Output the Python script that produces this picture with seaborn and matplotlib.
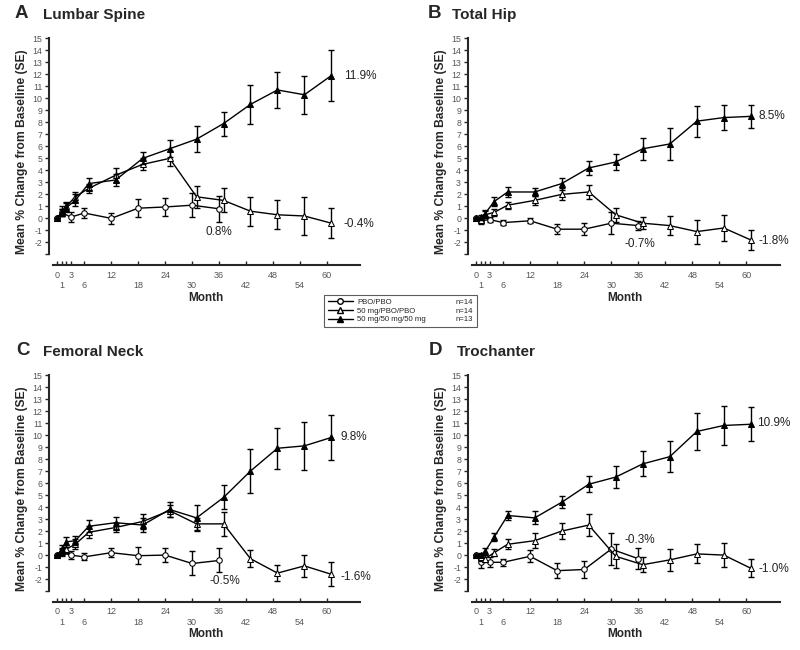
import numpy as np
import pandas as pd
import matplotlib
matplotlib.use("Agg")
import matplotlib.pyplot as plt
import seaborn as sns
from matplotlib.lines import Line2D

# visit months (treatment arms plotted one month to the right, as in the source)
months_pbo = [0, 1, 3, 6, 12, 18, 24, 30, 36]
months_trt = [0, 1, 2, 4, 7, 13, 19, 25, 31, 37, 43, 49, 55, 61]

groups = ["PBO/PBO", "50 mg/PBO/PBO", "50 mg/50 mg/50 mg"]
group_n = ["n=14", "n=14", "n=13"]

# A  Lumbar Spine
ls_pbo = [0, 0.5, 0.1, 0.45, 0.0, 0.85, 0.95, 1.1, 0.8]
ls_pbo_se = [0, 0.3, 0.4, 0.4, 0.45, 0.75, 0.75, 1.0, 1.1]
ls_sw = [0, 0.6, 1.0, 1.8, 2.5, 3.6, 4.5, 5.0, 1.8, 1.5, 0.6, 0.3, 0.2, -0.4]
ls_sw_se = [0, 0.4, 0.4, 0.4, 0.4, 0.6, 0.5, 0.6, 0.9, 1.0, 1.2, 1.2, 1.6, 1.25]
ls_alen = [0, 0.5, 0.9, 1.5, 2.9, 3.2, 5.0, 5.8, 6.6, 7.9, 9.5, 10.7, 10.3, 11.9]
ls_alen_se = [0, 0.3, 0.4, 0.5, 0.5, 0.5, 0.5, 0.7, 1.1, 1.0, 1.6, 1.5, 1.6, 2.1]

# B  Total Hip
th_pbo = [0, -0.2, -0.1, -0.35, -0.2, -0.9, -0.9, -0.4, -0.6]
th_pbo_se = [0, 0.3, 0.2, 0.2, 0.2, 0.4, 0.5, 0.9, 0.4]
th_sw = [0, -0.1, 0.3, 0.5, 1.1, 1.5, 2.0, 2.2, 0.3, -0.4, -0.6, -1.1, -0.8, -1.8]
th_sw_se = [0, 0.2, 0.3, 0.3, 0.3, 0.4, 0.5, 0.6, 0.6, 0.5, 0.8, 1.0, 1.1, 0.8]
th_alen = [0, 0.1, 0.4, 1.4, 2.2, 2.2, 2.9, 4.2, 4.7, 5.8, 6.2, 8.1, 8.4, 8.5]
th_alen_se = [0, 0.2, 0.3, 0.4, 0.45, 0.35, 0.5, 0.6, 0.7, 0.9, 1.3, 1.3, 1.05, 0.95]

# C  Femoral Neck
fn_pbo = [0, 0.2, 0.0, -0.15, 0.2, -0.05, 0.0, -0.7, -0.45]
fn_pbo_se = [0, 0.3, 0.3, 0.3, 0.4, 0.7, 0.6, 1.0, 1.0]
fn_sw = [0, 0.3, 0.5, 0.9, 1.9, 2.3, 2.8, 3.7, 2.6, 2.6, -0.3, -1.5, -0.9, -1.6]
fn_sw_se = [0, 0.3, 0.3, 0.4, 0.5, 0.4, 0.6, 0.5, 0.5, 1.0, 0.7, 0.7, 0.9, 1.0]
fn_alen = [0, 0.5, 1.1, 1.2, 2.4, 2.7, 2.5, 3.8, 3.1, 4.8, 7.0, 8.9, 9.1, 9.8]
fn_alen_se = [0, 0.3, 0.4, 0.4, 0.5, 0.5, 0.6, 0.6, 1.1, 1.0, 1.8, 1.7, 2.0, 1.9]

# D  Trochanter
tr_pbo = [0, -0.6, -0.6, -0.6, -0.1, -1.3, -1.2, 0.5, -0.3]
tr_pbo_se = [0, 0.5, 0.4, 0.3, 0.5, 0.6, 0.7, 1.3, 0.9]
tr_sw = [0, -0.2, -0.3, 0.2, 0.9, 1.2, 2.0, 2.5, -0.1, -0.8, -0.4, 0.1, 0.0, -1.1]
tr_sw_se = [0, 0.3, 0.3, 0.3, 0.4, 0.6, 0.7, 0.9, 1.0, 0.6, 0.9, 0.8, 1.0, 0.75]
tr_alen = [0, 0.0, 0.3, 1.5, 3.3, 3.1, 4.4, 5.9, 6.5, 7.6, 8.2, 10.3, 10.8, 10.9]
tr_alen_se = [0, 0.2, 0.3, 0.3, 0.4, 0.55, 0.5, 0.65, 0.9, 1.05, 1.3, 1.55, 1.65, 1.4]

panels = [
    ("A", "Lumbar Spine", [ls_pbo, ls_sw, ls_alen], [ls_pbo_se, ls_sw_se, ls_alen_se],
     [("11.9%", 63.8, 11.9, "left"), ("-0.4%", 63.8, -0.5, "left"), ("0.8%", 36, -1.1, "center")]),
    ("B", "Total Hip", [th_pbo, th_sw, th_alen], [th_pbo_se, th_sw_se, th_alen_se],
     [("8.5%", 62.7, 8.5, "left"), ("-1.8%", 62.7, -1.9, "left"), ("-0.7%", 36.4, -2.1, "center")]),
    ("C", "Femoral Neck", [fn_pbo, fn_sw, fn_alen], [fn_pbo_se, fn_sw_se, fn_alen_se],
     [("9.8%", 63, 9.8, "left"), ("-1.6%", 63, -1.8, "left"), ("-0.5%", 37.3, -2.2, "center")]),
    ("D", "Trochanter", [tr_pbo, tr_sw, tr_alen], [tr_pbo_se, tr_sw_se, tr_alen_se],
     [("10.9%", 62.3, 11.0, "left"), ("-1.0%", 62.6, -1.2, "left"), ("-0.3%", 36.4, 1.25, "center")]),
]

positions = [
    [0.0615, 0.592, 0.392, 0.349],
    [0.585, 0.592, 0.393, 0.349],
    [0.0615, 0.074, 0.392, 0.349],
    [0.585, 0.074, 0.393, 0.349],
]
# letter / title x offsets in axes fraction
letter_x = [-0.109, -0.127, -0.106, -0.124]
title_x = [-0.02, -0.052, -0.019, -0.036]

styles = [
    dict(marker="o", markerfacecolor="white", markeredgecolor="black", markersize=4),
    dict(marker="^", markerfacecolor="white", markeredgecolor="black", markersize=4.5),
    dict(marker="^", markerfacecolor="black", markeredgecolor="black", markersize=4.5),
]

sns.set_style("ticks")
plt.rcParams["font.family"] = ["Liberation Sans", "DejaVu Sans"]

fig = plt.figure(figsize=(8, 6.5), dpi=100)

xticks_major = [0, 1, 3, 6, 12, 18, 24, 30, 36, 42, 48, 54, 60]
xtick_labels = [str(m) if i % 2 == 0 else "\n" + str(m) for i, m in enumerate(xticks_major)]

for i, ((letter, title, means, ses, notes), pos) in enumerate(zip(panels, positions)):
    ax = fig.add_axes(pos)
    for gi, g in enumerate(groups):
        x = months_pbo if gi == 0 else months_trt
        df = pd.DataFrame({"month": x, "mean": means[gi], "se": ses[gi]})
        ax.errorbar(df["month"], df["mean"], yerr=df["se"], fmt="none", ecolor="black",
                    elinewidth=1.0, capsize=2.4, capthick=1.0, zorder=2 + gi)
        sns.lineplot(data=df, x="month", y="mean", color="black", linewidth=1.0,
                     ax=ax, zorder=3 + gi, **styles[gi])
    for txt, tx, ty, ha in notes:
        ax.text(tx, ty, txt, ha=ha, va="center", fontsize=8.5, color="#222222")

    ax.set_xlim(-1.8, 68)
    ax.set_ylim(-3.9, 15)
    ax.spines["top"].set_visible(False)
    ax.spines["right"].set_visible(False)
    ax.spines["left"].set_bounds(-3, 15)
    ax.spines["bottom"].set_bounds(-0.9, 67.4)
    ax.spines["left"].set_linewidth(1.5)
    ax.spines["bottom"].set_linewidth(1.5)

    ax.set_yticks(range(-3, 16))
    ax.set_yticklabels([""] + [str(v) for v in range(-2, 16)])
    ax.tick_params(axis="y", direction="out", length=3, width=1, labelsize=6.3,
                   labelcolor="#555555", pad=2)
    ax.set_xticks(xticks_major)
    ax.set_xticks([2], minor=True)
    ax.set_xticklabels(xtick_labels)
    ax.tick_params(axis="x", which="both", direction="in", length=3, width=1,
                   labelsize=6.5, labelcolor="#555555", pad=4)

    ax.set_xlabel("Month", fontsize=8.5, fontweight="bold", labelpad=1)
    ax.set_ylabel("Mean % Change from Baseline (SE)", fontsize=8.7, fontweight="bold",
                  labelpad=3)

    ax.text(letter_x[i], 1.07, letter, transform=ax.transAxes, fontsize=13.5,
            fontweight="bold", va="bottom")
    ax.text(title_x[i], 1.07, title, transform=ax.transAxes, fontsize=11,
            fontweight="bold", va="bottom")

handles = [Line2D([0], [0], color="black", linewidth=1.0, **s) for s in styles]
blank = [Line2D([0], [0], color="none") for _ in groups]
leg = fig.legend(handles + blank, groups + group_n, ncol=2, loc="center",
                 bbox_to_anchor=(0.5006, 0.5215), fontsize=5.6, frameon=True,
                 fancybox=False, edgecolor="#333333", handlelength=3.2,
                 columnspacing=0.0, labelspacing=0.15, borderpad=0.5, handletextpad=0.6)
leg.get_frame().set_linewidth(0.8)

fig.savefig("out.png", dpi=100)
